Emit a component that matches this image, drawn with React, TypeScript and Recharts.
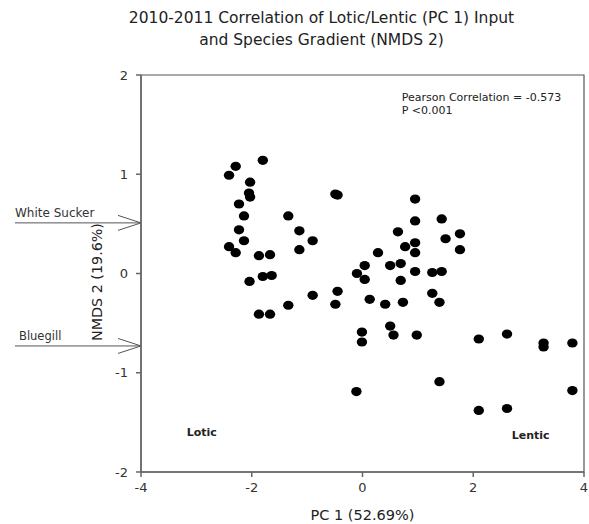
import { ScatterChart, Scatter, XAxis, YAxis, ReferenceArea, ReferenceLine } from 'recharts';

// PC 1 (lotic/lentic input) and NMDS 2 (species gradient) scores
const pcScores = [
  -2.41, -2.29, -1.8, -2.03, -2.05, -2.03, -2.23, -2.14, -2.23, -2.14,
  -2.41, -2.29, -1.87, -1.67, -1.8, -1.64, -2.04, -1.87, -1.67, -1.34,
  -1.14, -1.14, -0.9, -1.34, -0.9, -0.49, -0.45, -0.45, -0.49, -0.1,
  0.04, 0.04, 0.13, 0.28, 0.41, 0.5, 0.69, 0.69, 0.73, 0.64,
  0.77, 0.95, 0.95, 0.95, 0.95, 0.95, 1.26, 1.43, 1.43, 1.5,
  1.76, 1.76, 1.26, 1.39, 0.5, 0.56, 0.98, -0.01, -0.01, -0.11,
  1.39, 2.1, 2.61, 3.27, 3.27, 3.79, 3.79, 2.1, 2.61,
];
const nmdsScores = [
  0.99, 1.08, 1.14, 0.92, 0.81, 0.77, 0.7, 0.58, 0.44, 0.33,
  0.27, 0.21, 0.18, 0.19, -0.03, -0.02, -0.08, -0.41, -0.41, 0.58,
  0.43, 0.24, 0.33, -0.32, -0.22, 0.8, 0.79, -0.18, -0.31, 0.0,
  0.08, -0.06, -0.26, 0.21, -0.31, 0.08, 0.1, -0.07, -0.29, 0.42,
  0.27, 0.75, 0.53, 0.31, 0.21, 0.02, 0.01, 0.02, 0.55, 0.35,
  0.4, 0.24, -0.2, -0.29, -0.53, -0.62, -0.62, -0.59, -0.69, -1.19,
  -1.09, -0.66, -0.61, -0.7, -0.74, -0.7, -1.18, -1.38, -1.36,
];
const xTicks = [-4, -2, 0, 2, 4];
const yTicks = [-2, -1, 0, 1, 2];
// species markers on the NMDS 2 axis
const speciesNames = ['White Sucker', 'Bluegill'];
const speciesScores = [0.51, -0.73];

const points = pcScores.map((pc, i) => ({ pc, nmds: nmdsScores[i] }));

const FONT = '"DejaVu Sans", sans-serif';

const Dot = (props: any) => (
  <ellipse cx={props.cx} cy={props.cy} rx={5.2} ry={4.6} fill="#000" />
);

const speciesArrow = (name: string, textDx: number) => (props: any) => {
  const tip = Math.min(props.x1, props.x2);
  const y = props.y1;
  return (
    <g>
      <line x1={15} y1={y} x2={tip} y2={y} stroke="#555" strokeWidth={1} />
      <polyline
        points={`${tip - 23},${y - 7.5} ${tip},${y} ${tip - 23},${y + 7.5}`}
        fill="none"
        stroke="#555"
        strokeWidth={1}
      />
      <text x={15 + textDx} y={y - 5.5} fontSize={name.length > 9 ? 12 : 11.5} fontFamily={FONT} fill="#333">
        {name}
      </text>
    </g>
  );
};

export default function App() {
  const tick = { fontSize: 13, fontFamily: FONT, fill: '#333' };
  return (
    <div style={{ position: 'absolute', left: 0, top: 0, width: 589, height: 524, background: '#fff' }}>
      <ScatterChart width={589} height={524} margin={{ top: 75, right: 5, bottom: 22, left: 101 }}>
        <XAxis
          type="number"
          dataKey="pc"
          domain={[-4, 4]}
          ticks={xTicks}
          height={30}
          tick={tick}
          tickSize={5}
          tickMargin={6}
          stroke="#666"
          strokeWidth={1.5}
        />
        <YAxis
          type="number"
          dataKey="nmds"
          domain={[-2, 2]}
          ticks={yTicks}
          width={40}
          tick={tick}
          tickSize={5}
          tickMargin={8}
          stroke="#666"
          strokeWidth={1.5}
        />
        <ReferenceArea x1={-4} x2={4} y1={-2} y2={2} fill="none" stroke="#555" strokeWidth={1.2} />
        {speciesNames.map((name, i) => (
          <ReferenceLine
            key={name}
            y={speciesScores[i]}
            shape={speciesArrow(name, i === 0 ? 0 : 4)}
          />
        ))}
        <Scatter data={points} shape={Dot} isAnimationActive={false} />
        <text x={321.5} y={23} textAnchor="middle" fontSize={15.5} fontFamily={FONT} fill="#222">
          2010-2011 Correlation of Lotic/Lentic (PC 1) Input
        </text>
        <text x={321.5} y={45} textAnchor="middle" fontSize={15.5} fontFamily={FONT} fill="#222">
          and Species Gradient (NMDS 2)
        </text>
        <text x={401.7} y={100.5} fontSize={11} fontFamily={FONT} fill="#222">
          Pearson Correlation = -0.573
        </text>
        <text x={401.7} y={113.5} fontSize={11} fontFamily={FONT} fill="#222">
          P &lt;0.001
        </text>
        <text x={186.7} y={435.7} fontSize={11} fontWeight="bold" fontFamily={FONT} fill="#222">
          Lotic
        </text>
        <text x={511.7} y={439} fontSize={11} fontWeight="bold" fontFamily={FONT} fill="#222">
          Lentic
        </text>
        <text x={362.5} y={520} textAnchor="middle" fontSize={14.5} fontFamily={FONT} fill="#222">
          PC 1 (52.69%)
        </text>
        <text
          x={102}
          y={282}
          textAnchor="middle"
          fontSize={14.3}
          fontFamily={FONT}
          fill="#222"
          transform="rotate(-90 102 282)"
        >
          NMDS 2 (19.6%)
        </text>
      </ScatterChart>
    </div>
  );
}
